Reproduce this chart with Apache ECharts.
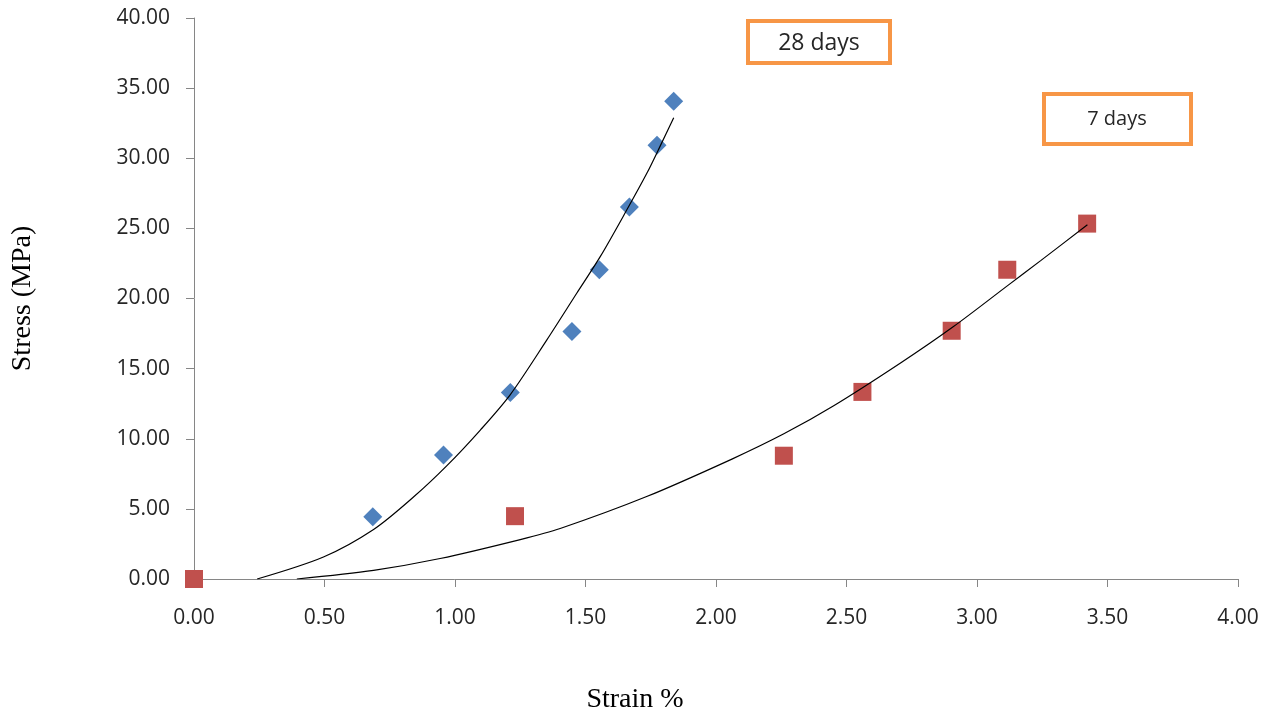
<!DOCTYPE html>
<html>
<head>
<meta charset="utf-8">
<script src="https://cdn.jsdelivr.net/npm/echarts@6/dist/echarts.min.js"></script>
<style>
html,body{margin:0;padding:0;background:#fff;}
#chart{width:1273px;height:719px;}
</style>
</head>
<body>
<div id="chart"></div>
<script>
// Measured points (strain %, stress MPa)
const strain28 = [0.685, 0.956, 1.212, 1.448, 1.553, 1.668, 1.774, 1.838];
const stress28 = [4.43, 8.84, 13.29, 17.64, 22.05, 26.53, 30.93, 34.07];
const strain7 = [0.0, 1.230, 2.260, 2.561, 2.903, 3.116, 3.422];
const stress7 = [0.0, 4.48, 8.79, 13.34, 17.70, 22.05, 25.34];
// Trend lines
const trend28X = [0.242, 0.496, 0.688, 0.842, 0.970, 1.097, 1.212, 1.352, 1.467, 1.557, 1.659, 1.736, 1.787, 1.838];
const trend28Y = [0.0, 1.57, 3.53, 5.86, 8.10, 10.62, 13.15, 17.05, 20.39, 23.0, 26.34, 28.96, 30.9, 32.89];
const trend7X = [0.394, 0.688, 0.943, 1.250, 1.403, 1.732, 2.061, 2.260, 2.451, 2.707, 2.910, 3.116, 3.244, 3.423];
const trend7Y = [0.0, 0.62, 1.46, 2.81, 3.60, 5.86, 8.55, 10.35, 12.35, 15.40, 18.0, 20.9, 22.7, 25.26];
// Axis ticks / labels
const xTicks = {min: 0, max: 4, interval: 0.5};
const yTicks = {min: 0, max: 40, interval: 5};
const xTitle = 'Strain %';
const yTitle = 'Stress (MPa)';
const label28 = '28 days';
const label7 = '7 days';

const zip = (a, b) => a.map((v, i) => [v, b[i]]);

const chart = echarts.init(document.getElementById('chart'));
const axisLineStyle = {color: '#868686', width: 1};
const labelFont = {fontFamily: '"Open Sans"', fontSize: 21, color: '#262626'};

chart.setOption({
  animation: false,
  backgroundColor: '#ffffff',
  grid: {left: 194, right: 35, top: 18, bottom: 140, containLabel: false, outerBoundsMode: 'none'},
  xAxis: {
    type: 'value',
    min: xTicks.min, max: xTicks.max, interval: xTicks.interval,
    axisLine: {show: true, lineStyle: axisLineStyle},
    axisTick: {show: true, length: 8, lineStyle: axisLineStyle},
    splitLine: {show: false},
    axisLabel: Object.assign({margin: 29, formatter: v => v.toFixed(2)}, labelFont)
  },
  yAxis: {
    type: 'value',
    min: yTicks.min, max: yTicks.max, interval: yTicks.interval,
    name: yTitle,
    nameLocation: 'middle',
    nameGap: 157,
    nameRotate: 90,
    nameTextStyle: {fontFamily: '"Liberation Serif"', fontSize: 28, color: '#000'},
    axisLine: {show: true, lineStyle: axisLineStyle},
    axisTick: {show: true, length: 8, lineStyle: axisLineStyle},
    splitLine: {show: false},
    axisLabel: Object.assign({margin: 24, formatter: v => v.toFixed(2)}, labelFont)
  },
  series: [
    {
      type: 'line', data: zip(trend28X, trend28Y), smooth: 0.3, showSymbol: false,
      lineStyle: {color: '#000', width: 1.2}, z: 3, silent: true
    },
    {
      type: 'line', data: zip(trend7X, trend7Y), smooth: 0.3, showSymbol: false,
      lineStyle: {color: '#000', width: 1.2}, z: 3, silent: true
    },
    {
      name: label28, type: 'scatter', data: zip(strain28, stress28),
      symbol: 'diamond', symbolSize: [19, 19],
      itemStyle: {color: '#4F81BD', opacity: 1}, z: 2
    },
    {
      name: label7, type: 'scatter', data: zip(strain7, stress7),
      symbol: 'rect', symbolSize: [18, 18],
      itemStyle: {color: '#C0504D', opacity: 1}, z: 2
    }
  ],
  graphic: [
    {
      type: 'rect', shape: {x: 748, y: 21, width: 142, height: 42},
      style: {fill: '#fff', stroke: '#F79646', lineWidth: 4}, z: 10
    },
    {
      type: 'text', x: 819, y: 43, z: 11,
      style: {text: label28, fill: '#262626', font: '23px "Open Sans"', align: 'center', verticalAlign: 'middle'}
    },
    {
      type: 'rect', shape: {x: 1044, y: 94, width: 147, height: 50},
      style: {fill: '#fff', stroke: '#F79646', lineWidth: 4}, z: 10
    },
    {
      type: 'text', x: 1117, y: 119, z: 11,
      style: {text: label7, fill: '#262626', font: '20px "Open Sans"', align: 'center', verticalAlign: 'middle'}
    },
    {
      type: 'text', x: 635, y: 700, z: 11,
      style: {text: xTitle, fill: '#000', font: '28px "Liberation Serif"', align: 'center', verticalAlign: 'middle'}
    }
  ]
});
</script>
</body>
</html>
